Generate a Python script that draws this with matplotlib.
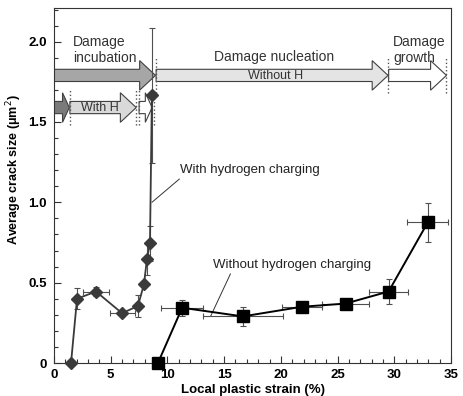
import matplotlib
matplotlib.use('Agg')
import matplotlib.pyplot as plt
from matplotlib.patches import Polygon
from matplotlib.ticker import MultipleLocator

plt.rcParams['font.family'] = ['Liberation Sans', 'DejaVu Sans']

# with hydrogen charging (diamonds)
h_x = [1.5, 2.03, 3.7, 6.0, 7.4, 7.93, 8.2, 8.46, 8.63]
h_y = [0.0, 0.40, 0.445, 0.31, 0.355, 0.49, 0.65, 0.745, 1.665]
h_xerr = [0, 0.15, 1.15, 1.1, 0.2, 0.1, 0.15, 0.15, 0.1]
h_yerr = [0, 0.065, 0.03, 0.02, 0.07, 0.02, 0.1, 0.11, 0.42]

# without hydrogen charging (squares)
n_x = [9.16, 11.3, 16.65, 21.85, 25.7, 29.5, 32.95]
n_y = [0.0, 0.344, 0.29, 0.35, 0.37, 0.445, 0.875]
n_xerr = [0, 1.85, 3.5, 1.75, 2.1, 1.7, 1.8]
n_yerr = [0, 0.05, 0.06, 0.015, 0.01, 0.08, 0.12]

# stage arrows: (start, end, y centre, colour, head length)
stage_top = [(0.0, 8.95, 1.79, '#a6a6a6', 1.4),
             (9.0, 29.45, 1.79, '#e4e4e4', 1.4),
             (29.5, 34.6, 1.79, 'white', 1.4)]
stage_low = [(0.0, 1.35, 1.59, '#7a7a7a', 0.6),
             (1.4, 7.25, 1.59, '#d9d9d9', 1.4),
             (7.5, 8.65, 1.59, 'white', 0.6)]
dotted_top = [9.0, 29.45, 34.6]
dotted_low = [1.4, 7.25, 7.45, 8.8]


def arrow_poly(x0, x1, yc, hl, bh=0.038, hh=0.092):
    xh = x1 - hl
    return [(x0, yc - bh), (xh, yc - bh), (xh, yc - hh), (x1, yc),
            (xh, yc + hh), (xh, yc + bh), (x0, yc + bh)]


fig = plt.figure(figsize=(4.64, 3.96), dpi=100)
ax = fig.add_axes([0.1164, 0.0833, 0.8556, 0.8967])

for x0, x1, yc, col, hl in stage_top + stage_low:
    ax.add_patch(Polygon(arrow_poly(x0, x1, yc, hl), closed=True,
                         facecolor=col, edgecolor='#404040', lw=0.8, zorder=2))
for xv in dotted_top:
    ax.plot([xv, xv], [1.68, 1.90], ls=':', color='#555555', lw=1.0, zorder=3)
for xv in dotted_low:
    ax.plot([xv, xv], [1.48, 1.70], ls=':', color='#555555', lw=1.0, zorder=3)

ax.errorbar(h_x, h_y, xerr=h_xerr, yerr=h_yerr, fmt='D-', color='#3a3a3a',
             ms=6.5, lw=1.3, ecolor='#505050', elinewidth=0.8, capsize=2,
             capthick=0.8, clip_on=False, zorder=5)
ax.errorbar(n_x, n_y, xerr=n_xerr, yerr=n_yerr, fmt='s-', color='black',
             ms=8, lw=1.4, ecolor='#505050', elinewidth=0.8, capsize=2,
             capthick=0.8, clip_on=False, zorder=5)

tc = '#333333'
ax.text(1.7, 1.95, 'Damage\nincubation', fontsize=10, color=tc, ha='left',
        va='center', linespacing=1.2)
ax.text(19.4, 1.905, 'Damage nucleation', fontsize=10, color=tc, ha='center', va='center')
ax.text(29.9, 1.95, 'Damage\ngrowth', fontsize=10, color=tc, ha='left',
        va='center', linespacing=1.2)
ax.text(19.5, 1.785, 'Without H', fontsize=9, color=tc, ha='center', va='center')
ax.text(4.05, 1.585, 'With H', fontsize=9, color=tc, ha='center', va='center')

ax.annotate('With hydrogen charging', xy=(8.63, 1.0), xytext=(11.1, 1.2),
            fontsize=9.5, color='#222222', va='center', ha='left',
            arrowprops=dict(arrowstyle='-', color='#333333', lw=0.7,
                            shrinkA=0, shrinkB=0, relpos=(0.02, 0.0)))
ax.annotate('Without hydrogen charging', xy=(13.8, 0.29), xytext=(14.0, 0.61),
            fontsize=9.5, color='#222222', va='center', ha='left',
            arrowprops=dict(arrowstyle='-', color='#333333', lw=0.7,
                            shrinkA=0, shrinkB=0, relpos=(0.12, 0.0)))

ax.set_xlim(0, 35)
ax.set_ylim(0, 2.21)
ax.xaxis.set_major_locator(MultipleLocator(5))
ax.xaxis.set_minor_locator(MultipleLocator(1))
ax.set_yticks([0, 0.5, 1.0, 1.5, 2.0])
ax.set_yticklabels(['0', '0.5', '1.0', '1.5', '2.0'])
ax.yaxis.set_minor_locator(MultipleLocator(0.1))
ax.tick_params(which='both', direction='in', top=False, right=False,
               labelsize=9.5, width=0.8, color='#333333')
ax.tick_params(axis='y', pad=5)
ax.tick_params(axis='x', pad=4)
ax.tick_params(which='major', length=5)
ax.tick_params(which='minor', length=3)
for lab in ax.get_xticklabels() + ax.get_yticklabels():
    lab.set_fontweight('bold')
for sp in ax.spines.values():
    sp.set_linewidth(0.8)
    sp.set_color('#333333')

ax.set_xlabel('Local plastic strain (%)', fontsize=9.5, fontweight='bold')
ax.xaxis.set_label_coords(0.5, -0.058)
ax.set_ylabel('Average crack size (μm$^2$)', fontsize=9, fontweight='bold')
ax.yaxis.set_label_coords(-0.075, 0.545)

fig.savefig('out.png', dpi=100)
